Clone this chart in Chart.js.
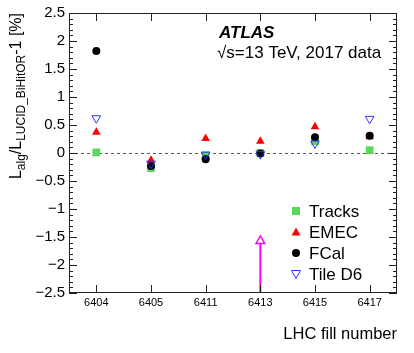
<!DOCTYPE html>
<html>
<head>
<meta charset="utf-8">
<script src="https://cdn.jsdelivr.net/npm/chart.js@4"></script>
<style>
  body { margin: 0; background: #fff; }
  #c { display: block; }
</style>
</head>
<body>
<canvas id="c" width="414" height="353"></canvas>
<script>
// LHC fills and ratios to LUCID BiHitOR, in %
const fills = ['6404', '6405', '6411', '6413', '6415', '6417'];
const tracks = [0.01, -0.27, -0.04, 0.0, 0.21, 0.05];
const emec = [0.37, -0.13, 0.26, 0.21, 0.47, 0.29];
const fcal = [1.82, -0.23, -0.11, -0.01, 0.28, 0.31];
const tileD6 = [0.62, -0.19, -0.03, -0.02, 0.17, 0.61];
// off-scale arrow
const arrowFill = '6413';
const arrowFrom = -2.5;
const arrowTo = -1.57;
const yTicks = [-2.5, -2, -1.5, -1, -0.5, 0, 0.5, 1, 1.5, 2, 2.5];

const font = '"Liberation Sans", Arial, Helvetica, sans-serif';

function pts(vals) {
    return vals.map((v, i) => ({x: i, y: v}));
}

function fmt(v) {
    let s = String(Math.abs(v));
    return v < 0 ? '\u2212' + s : s;
}

const cols = {
    tracks: '#5bd75b',
    emec: '#ff0000',
    fcal: '#000000',
    tile: '#3030ff',
    arrow: '#ff00ff'
};

const decor = {
    id: 'decor',
    beforeDraw(chart) {
        const ctx = chart.ctx;
        ctx.save();
        ctx.fillStyle = '#fff';
        ctx.fillRect(0, 0, chart.width, chart.height);
        ctx.restore();
    },
    beforeDatasetsDraw(chart) {
        const ctx = chart.ctx;
        const a = chart.chartArea;
        const y0 = chart.scales.y.getPixelForValue(0);
        ctx.save();
        ctx.strokeStyle = '#555';
        ctx.lineWidth = 1;
        ctx.setLineDash([3, 3]);
        ctx.beginPath();
        ctx.moveTo(a.left, Math.round(y0) + 0.5);
        ctx.lineTo(a.right, Math.round(y0) + 0.5);
        ctx.stroke();
        ctx.restore();
    },
    afterDraw(chart) {
        const ctx = chart.ctx;
        const a = chart.chartArea;
        const xs = chart.scales.x, ys = chart.scales.y;
        ctx.save();
        ctx.strokeStyle = '#222';
        ctx.lineWidth = 1;
        ctx.strokeRect(a.left + 0.5, a.top + 0.5, a.right - a.left - 1, a.bottom - a.top - 1);

        // y ticks, major + minor, both sides
        ctx.beginPath();
        for (let k = -25; k <= 25; k++) {
            const y = Math.round(ys.getPixelForValue(k / 10)) + 0.5;
            const len = (k % 5 === 0) ? 8 : 4;
            ctx.moveTo(a.left, y); ctx.lineTo(a.left + len, y);
            ctx.moveTo(a.right, y); ctx.lineTo(a.right - len, y);
        }
        // x ticks at each fill
        fills.forEach((f, i) => {
            const x = Math.round(xs.getPixelForValue(i)) + 0.5;
            ctx.moveTo(x, a.bottom); ctx.lineTo(x, a.bottom - 8);
            ctx.moveTo(x, a.top); ctx.lineTo(x, a.top + 8);
        });
        ctx.stroke();

        // tick labels
        ctx.fillStyle = '#000';
        ctx.font = '15px ' + font;
        ctx.textAlign = 'right';
        ctx.textBaseline = 'middle';
        yTicks.forEach(v => ctx.fillText(fmt(v), a.left - 4, ys.getPixelForValue(v)));
        ctx.font = '11px ' + font;
        ctx.textAlign = 'center';
        ctx.textBaseline = 'top';
        fills.forEach((f, i) => ctx.fillText(f, xs.getPixelForValue(i), a.bottom + 4));

        // x title
        ctx.font = '16.5px ' + font;
        ctx.textAlign = 'right';
        ctx.textBaseline = 'alphabetic';
        ctx.fillText('LHC fill number', a.right, 339);

        // y title with subscripts
        const parts = [
            ['L', 16, 0], ['alg', 12, 4], ['/L', 16, 0], ['LUCID_BiHitOR', 12, 4],
            ['-1 [%]', 16, 0]
        ];
        let total = 0;
        parts.forEach(p => { ctx.font = p[1] + 'px ' + font; total += ctx.measureText(p[0]).width; });
        ctx.save();
        ctx.translate(21, a.top + total);
        ctx.rotate(-Math.PI / 2);
        ctx.textAlign = 'left';
        let px = 0;
        parts.forEach(p => {
            ctx.font = p[1] + 'px ' + font;
            ctx.fillText(p[0], px, p[2]);
            px += ctx.measureText(p[0]).width;
        });
        ctx.restore();

        // ATLAS label
        ctx.textAlign = 'left';
        ctx.font = 'italic bold 17px ' + font;
        ctx.fillText('ATLAS', 219, 38);
        ctx.font = '17px ' + font;
        ctx.fillText('\u221As=13 TeV, 2017 data', 217, 58);

        // legend
        const leg = [
            ['Tracks', 'rect', cols.tracks],
            ['EMEC', 'tri', cols.emec],
            ['FCal', 'circ', cols.fcal],
            ['Tile D6', 'tridown', cols.tile]
        ];
        leg.forEach((l, i) => {
            const y = 211 + i * 21;
            const x = 296;
            ctx.beginPath();
            if (l[1] === 'rect') {
                ctx.fillStyle = l[2];
                ctx.fillRect(x - 4, y - 4, 8, 8);
            } else if (l[1] === 'tri') {
                ctx.fillStyle = l[2];
                ctx.moveTo(x, y - 4.5); ctx.lineTo(x + 4.5, y + 3.5); ctx.lineTo(x - 4.5, y + 3.5);
                ctx.closePath(); ctx.fill();
            } else if (l[1] === 'circ') {
                ctx.fillStyle = l[2];
                ctx.arc(x, y, 4, 0, Math.PI * 2); ctx.fill();
            } else {
                ctx.strokeStyle = l[2];
                ctx.moveTo(x, y + 4.5); ctx.lineTo(x + 4.5, y - 3.5); ctx.lineTo(x - 4.5, y - 3.5);
                ctx.closePath(); ctx.stroke();
            }
            ctx.fillStyle = '#000';
            ctx.font = '17px ' + font;
            ctx.textBaseline = 'middle';
            ctx.fillText(l[0], 309, y + 1);
        });
        ctx.restore();
    }
};

const ai = fills.indexOf(arrowFill);

new Chart(document.getElementById('c'), {
    type: 'scatter',
    data: {
        datasets: [
            {label: 'Tracks', data: pts(tracks), pointStyle: 'rect', radius: 5.5,
             backgroundColor: cols.tracks, borderColor: cols.tracks, borderWidth: 0, order: 4},
            {label: 'EMEC', data: pts(emec), pointStyle: 'triangle', radius: 5,
             backgroundColor: cols.emec, borderColor: cols.emec, borderWidth: 0, order: 3},
            {label: 'FCal', data: pts(fcal), pointStyle: 'circle', radius: 4,
             backgroundColor: cols.fcal, borderColor: cols.fcal, borderWidth: 0, order: 2},
            {label: 'Tile D6', data: pts(tileD6), pointStyle: 'triangle', rotation: 180, radius: 5,
             backgroundColor: 'rgba(255,255,255,0)', borderColor: cols.tile, borderWidth: 1, order: 1},
            {label: 'arrow', type: 'line', data: [{x: ai, y: arrowFrom}, {x: ai, y: arrowTo}],
             borderColor: cols.arrow, borderWidth: 2, pointStyle: 'triangle', pointRadius: [0, 5],
             pointBackgroundColor: '#fff', pointBorderColor: cols.arrow, pointBorderWidth: 1.5,
             clip: false, order: 0}
        ]
    },
    options: {
        responsive: false,
        animation: false,
        devicePixelRatio: 1,
        layout: {padding: {left: 69, right: 17, top: 13, bottom: 60}},
        plugins: {legend: {display: false}, tooltip: {enabled: false}},
        scales: {
            x: {type: 'linear', min: -0.5, max: fills.length - 0.5, display: false},
            y: {type: 'linear', min: -2.5, max: 2.5, display: false}
        }
    },
    plugins: [decor]
});
</script>
</body>
</html>
